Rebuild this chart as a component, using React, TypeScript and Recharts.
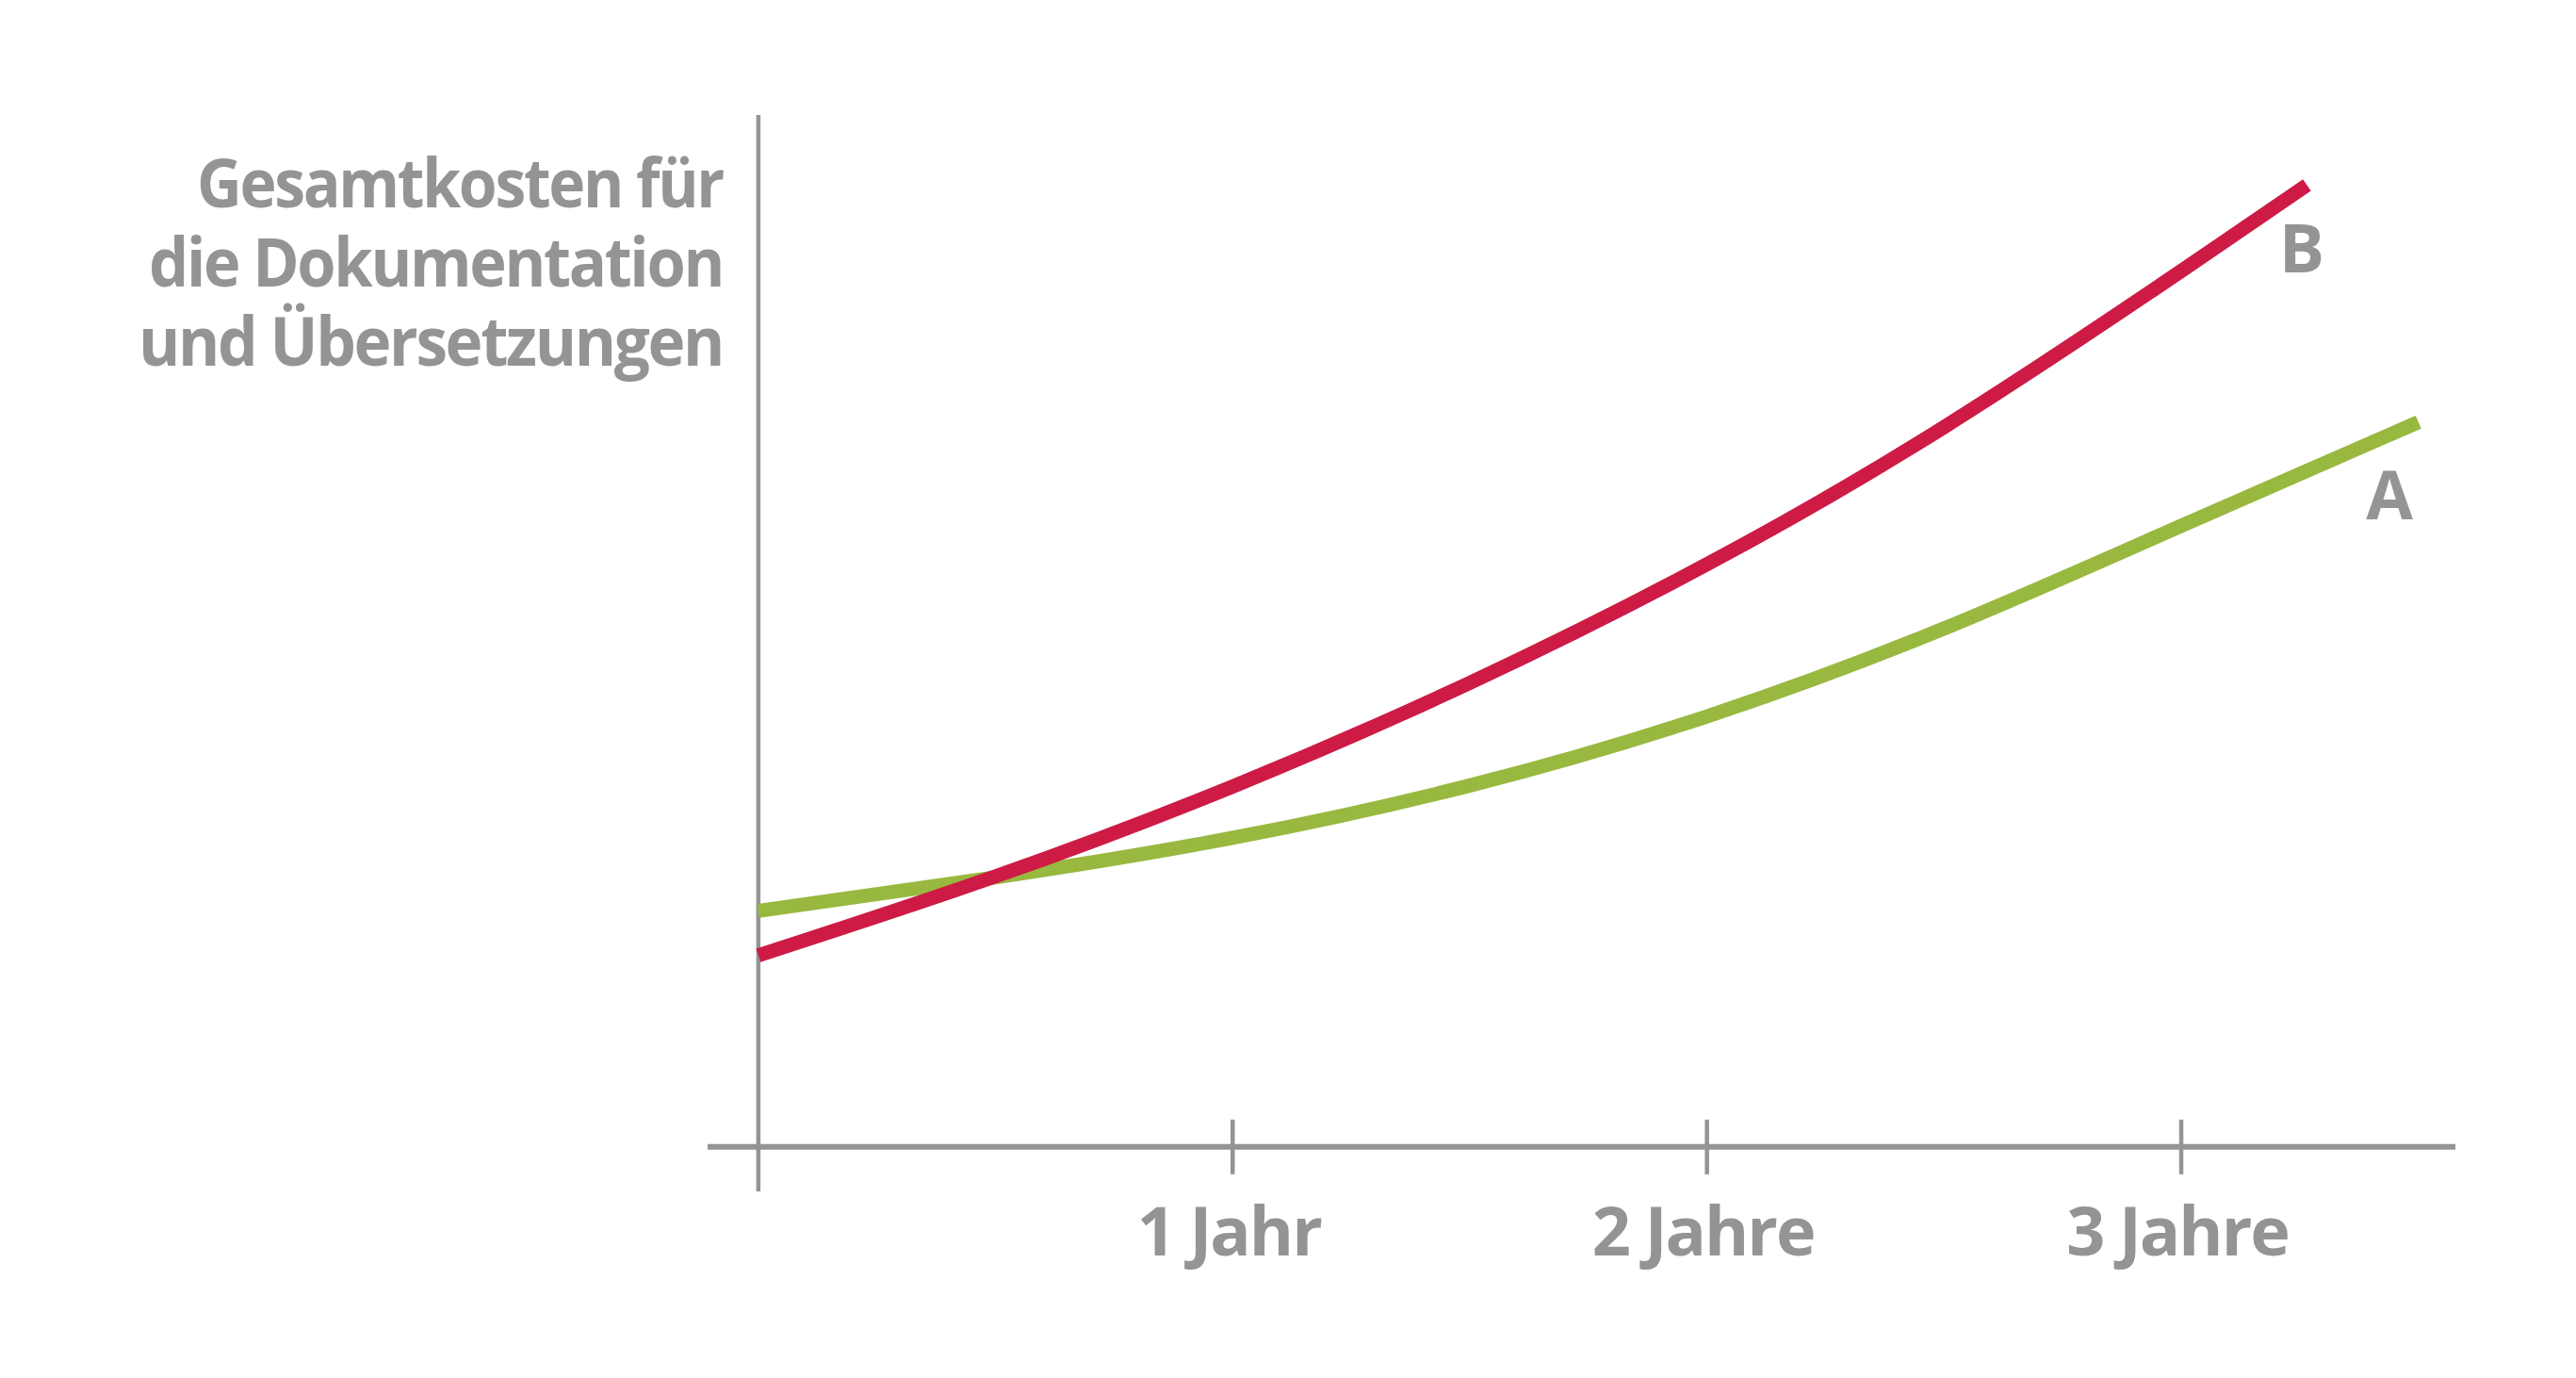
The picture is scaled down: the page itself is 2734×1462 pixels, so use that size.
import React from "react";
import { LineChart, Line, XAxis, YAxis, ReferenceLine, ReferenceDot } from "recharts";

// values (cost in arbitrary units, time in years)
const yearsA = [0, 0.5, 1, 1.5, 2, 2.5, 3, 3.5];
const costA = [23.9, 27.3, 31.3, 36.6, 43.6, 52.5, 62.9, 73.4];
const yearsB = [0, 0.5, 1, 1.5, 2, 2.5, 3, 3.265];
const costB = [19.4, 27.4, 36.5, 47.0, 59.0, 72.9, 88.7, 97.4];
const tickYears = [1, 2, 3];
const tickLabels = ["1 Jahr", "2 Jahre", "3 Jahre"];
const titleLines = ["Gesamtkosten für", "die Dokumentation", "und Übersetzungen"];
const seriesLabels = [
  { name: "B", x: 3.254, y: 91 },
  { name: "A", x: 3.439, y: 66 },
];

const dataA = yearsA.map((x, i) => ({ x, y: costA[i] }));
const dataB = yearsB.map((x, i) => ({ x, y: costB[i] }));

const GRAY = "#949494";
const RED = "#CD1B45";
const GREEN = "#99B840";
const FONT = "'Open Sans', 'Noto Sans', sans-serif";

// layout of the title block
const titleRight = 767;
const titleBaselines = [220, 304, 388];
const titleWidths = [558, 609, 620];

const YearTick = (props: any) => {
  const { x, y, payload } = props;
  const i = tickYears.indexOf(payload.value);
  return (
    <text
      x={x - 4}
      y={y + 68}
      textAnchor="middle"
      fill={GRAY}
      fontFamily={FONT}
      fontWeight={700}
      fontSize={72}
      letterSpacing={-2}
    >
      {tickLabels[i]}
    </text>
  );
};

const labelStyle = {
  position: "center" as const,
  fill: GRAY,
  fontSize: 72,
  fontWeight: 700,
  fontFamily: FONT,
};

export default function App() {
  return (
    <div style={{ position: "absolute", left: 0, top: 0, width: 2734, height: 1462, background: "#fff" }}>
      <LineChart
        width={2734}
        height={1462}
        margin={{ top: 122, right: 128, bottom: 168, left: 751 }}
      >
        <XAxis
          type="number"
          dataKey="x"
          domain={[-0.107, 3.578]}
          ticks={tickYears}
          allowDataOverflow
          axisLine={false}
          tickLine={false}
          tickSize={0}
          tickMargin={0}
          height={30}
          tick={<YearTick />}
        />
        <YAxis type="number" dataKey="y" domain={[-4.5, 104.5]} allowDataOverflow hide />
        <ReferenceLine x={0} stroke={GRAY} strokeWidth={4.5} />
        <ReferenceLine y={0} stroke={GRAY} strokeWidth={6} />
        {tickYears.map((t) => (
          <ReferenceLine
            key={t}
            segment={[
              { x: t, y: -2.77 },
              { x: t, y: 2.77 },
            ]}
            stroke={GRAY}
            strokeWidth={4.5}
          />
        ))}
        <Line
          data={dataA}
          dataKey="y"
          type="natural"
          stroke={GREEN}
          strokeWidth={15}
          dot={false}
          activeDot={false}
          isAnimationActive={false}
        />
        <Line
          data={dataB}
          dataKey="y"
          type="natural"
          stroke={RED}
          strokeWidth={15}
          dot={false}
          activeDot={false}
          isAnimationActive={false}
        />
        {seriesLabels.map((s) => (
          <ReferenceDot
            key={s.name}
            x={s.x}
            y={s.y}
            r={0}
            stroke="none"
            label={{ value: s.name, ...labelStyle }}
          />
        ))}
      </LineChart>
      <svg
        width={2734}
        height={1462}
        style={{ position: "absolute", left: 0, top: 0, pointerEvents: "none" }}
      >
        {titleLines.map((line, i) => (
          <text
            key={line}
            x={titleRight}
            y={titleBaselines[i]}
            textAnchor="end"
            fill={GRAY}
            fontFamily={FONT}
            fontWeight={700}
            fontSize={71}
            letterSpacing={-2.5}
            textLength={titleWidths[i]}
            lengthAdjust="spacingAndGlyphs"
          >
            {line}
          </text>
        ))}
      </svg>
    </div>
  );
}
